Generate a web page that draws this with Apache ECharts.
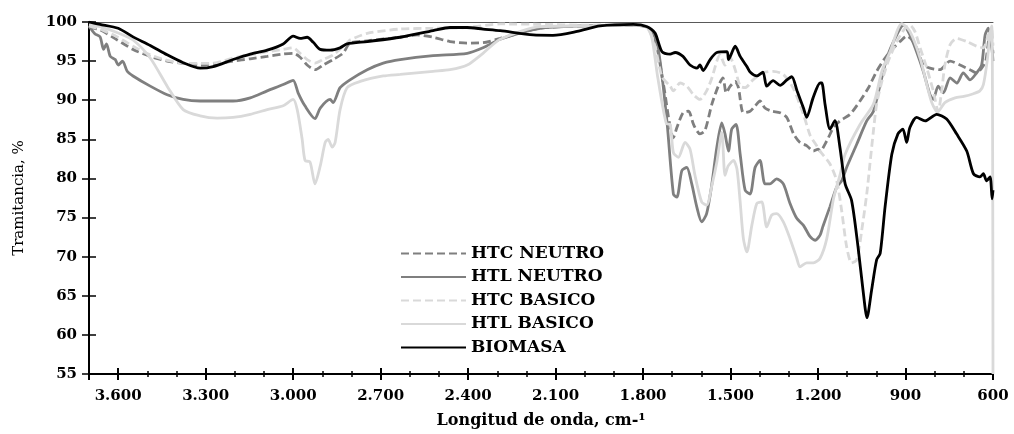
<!DOCTYPE html>
<html>
<head>
<meta charset="utf-8">
<script src="https://cdn.jsdelivr.net/npm/echarts@6/dist/echarts.min.js"></script>
<style>
html,body{margin:0;padding:0;background:#fff;}
#chart{width:1014px;height:434px;}
</style>
</head>
<body>
<div id="chart"></div>
<script>
// ---- Data: [wavenumber cm-1, transmittance %] ----
const seriesNames = ['HTC NEUTRO', 'HTL NEUTRO', 'HTC BASICO', 'HTL BASICO', 'BIOMASA'];

const xTickValues = [600, 900, 1200, 1500, 1800, 2100, 2400, 2700, 3000, 3300, 3600];
const yTickValues = [55, 60, 65, 70, 75, 80, 85, 90, 95, 100];

const htcNeutro = [
  [3700,99.3],[3662,99.0],[3603,97.7],[3549,96.5],[3490,95.6],[3432,95.0],[3377,94.7],[3319,94.5],
  [3261,94.7],[3206,95.0],[3147,95.3],[3089,95.6],[3034,95.9],[3000,96.0],[2976,95.5],[2952,94.5],
  [2925,93.9],[2897,94.5],[2863,95.2],[2829,96.0],[2805,97.3],[2746,97.6],[2633,98.05],[2575,98.35],
  [2520,98.05],[2462,97.5],[2403,97.3],[2349,97.35],[2290,97.9],[2153,99.2],[2000,99.5],[1850,99.6],
  [1790,99.4],[1760,98.0],[1730,92.0],[1696,85.2],[1684,86.5],[1663,88.4],[1644,88.6],[1627,86.9],
  [1605,85.7],[1588,86.1],[1564,89.5],[1542,91.8],[1526,92.85],[1515,90.95],[1501,91.8],[1484,92.4],
  [1473,91.6],[1456,88.4],[1433,88.6],[1416,89.25],[1399,89.9],[1382,89.0],[1359,88.6],[1330,88.4],
  [1307,87.8],[1284,85.7],[1262,84.6],[1239,84.2],[1216,83.5],[1199,83.75],[1193,83.5],[1170,84.8],
  [1147,86.5],[1125,87.35],[1090,88.2],[1056,89.9],[1027,91.6],[999,93.7],[970,95.4],[941,96.7],
  [919,97.5],[895,98.2],[880,97.8],[862,96.7],[839,94.5],[816,94.1],[782,93.9],[747,95.0],[713,94.5],
  [679,93.9],[656,93.5],[639,94.1],[625,95.0],[612,98.0],[603,97.0],[600,96.0]
];

const htlNeutro = [
  [3700,99.5],[3680,98.5],[3662,98.1],[3650,96.5],[3640,97.2],[3627,95.6],[3610,95.2],[3600,94.5],
  [3585,95.0],[3569,93.7],[3549,93.1],[3490,91.8],[3432,90.7],[3377,90.1],[3319,89.9],[3206,89.9],
  [3147,90.3],[3089,91.2],[3034,92.0],[3000,92.55],[2983,90.95],[2959,89.25],[2925,87.65],[2907,89.0],
  [2873,90.1],[2863,89.7],[2839,91.6],[2805,92.6],[2746,93.9],[2691,94.75],[2633,95.2],[2520,95.7],
  [2403,96.0],[2349,96.7],[2290,97.8],[2153,99.2],[2000,99.5],[1850,99.6],[1790,99.4],[1753,97.5],
  [1720,88.0],[1696,78.0],[1684,77.6],[1667,81.0],[1650,81.4],[1633,79.3],[1616,76.4],[1599,74.45],
  [1582,75.5],[1564,79.3],[1547,84.0],[1530,87.1],[1519,85.7],[1507,83.5],[1496,86.3],[1481,86.9],
  [1467,83.1],[1450,78.5],[1433,78.0],[1416,81.4],[1399,82.3],[1382,79.3],[1365,79.3],[1342,79.95],
  [1319,79.3],[1296,76.8],[1273,74.9],[1250,74.0],[1227,72.55],[1210,72.1],[1193,72.75],[1183,73.9],
  [1159,76.4],[1136,78.9],[1119,79.7],[1102,81.4],[1067,84.4],[1033,87.35],[1010,88.6],[987,92.0],
  [964,95.4],[930,98.35],[907,99.6],[885,98.35],[862,96.2],[839,93.7],[816,90.7],[805,90.1],
  [788,91.8],[770,90.95],[747,92.85],[724,92.2],[702,93.5],[679,92.6],[656,93.5],[639,94.5],
  [627,98.35],[616,99.2],[604,96.7],[600,95.0]
];

const htcBasico = [
  [3700,99.5],[3650,98.9],[3603,98.1],[3549,96.9],[3490,95.8],[3432,95.1],[3377,94.75],[3319,94.7],
  [3261,94.8],[3206,95.4],[3147,95.8],[3089,96.2],[3034,96.5],[3000,96.7],[2976,96.0],[2952,95.2],
  [2925,94.75],[2897,95.2],[2863,95.8],[2815,97.3],[2805,97.7],[2746,98.55],[2633,99.1],[2520,99.2],
  [2403,99.3],[2290,99.75],[2150,99.7],[2000,99.6],[1850,99.7],[1790,99.5],[1760,97.0],[1735,93.0],
  [1707,91.8],[1696,91.2],[1673,92.2],[1650,91.8],[1627,90.7],[1605,90.1],[1582,91.2],[1564,92.85],
  [1547,95.0],[1536,95.8],[1519,94.5],[1501,95.4],[1484,93.9],[1467,91.8],[1450,91.6],[1423,92.6],
  [1389,93.5],[1354,93.7],[1319,93.3],[1286,91.6],[1250,88.2],[1227,85.5],[1205,84.2],[1193,83.5],
  [1159,81.85],[1136,79.7],[1119,75.9],[1102,71.3],[1085,69.2],[1067,69.6],[1050,73.4],[1033,78.0],
  [1022,81.85],[1010,86.1],[999,89.5],[981,92.4],[959,95.0],[930,97.5],[902,99.2],[885,99.6],
  [868,98.8],[850,96.7],[827,94.1],[805,91.2],[788,88.6],[776,91.2],[765,94.5],[747,97.1],
  [724,97.9],[690,97.5],[656,96.9],[633,96.7],[616,98.35],[605,99.0],[600,97.0]
];

const htlBasico = [
  [3700,99.7],[3662,99.4],[3600,98.6],[3549,97.7],[3490,95.4],[3432,91.8],[3377,88.8],[3319,88.0],
  [3261,87.7],[3206,87.8],[3147,88.2],[3089,88.8],[3034,89.3],[3000,90.1],[2986,88.8],[2969,85.0],
  [2959,82.3],[2942,82.1],[2925,79.3],[2907,81.6],[2890,84.6],[2880,85.0],[2866,84.0],[2856,84.6],
  [2839,88.8],[2815,91.6],[2770,92.4],[2691,93.1],[2633,93.3],[2520,93.7],[2462,93.9],[2403,94.5],
  [2349,96.0],[2290,97.8],[2153,99.4],[2000,99.5],[1850,99.6],[1790,99.4],[1770,98.0],[1750,93.0],
  [1720,87.0],[1707,86.9],[1696,83.3],[1679,82.7],[1656,84.6],[1639,83.75],[1622,80.4],[1599,77.0],
  [1582,76.6],[1564,79.1],[1547,82.1],[1530,85.9],[1519,80.4],[1508,81.6],[1490,82.3],[1478,81.2],
  [1467,77.0],[1456,72.3],[1444,70.6],[1427,74.0],[1410,76.8],[1393,77.0],[1376,73.8],[1359,75.3],
  [1342,75.5],[1319,74.45],[1296,72.3],[1273,69.8],[1262,68.7],[1239,69.2],[1216,69.2],[1193,69.8],
  [1170,72.3],[1147,77.4],[1125,80.4],[1107,83.1],[1056,86.9],[1010,89.5],[981,93.7],[953,96.2],
  [913,99.8],[885,98.8],[850,95.4],[827,92.0],[810,89.7],[790,88.5],[765,89.7],[730,90.3],
  [700,90.5],[670,90.8],[645,91.2],[633,92.0],[620,95.0],[610,98.5],[604,99.5],[601,80.0],[600,55.0]
];

const biomasa = [
  [3700,100],[3662,99.7],[3600,99.2],[3549,98.1],[3490,97.0],[3432,95.8],[3377,94.8],[3319,94.1],
  [3274,94.3],[3206,95.2],[3147,95.9],[3089,96.4],[3034,97.2],[3000,98.2],[2976,97.9],[2952,98.05],
  [2931,97.4],[2907,96.5],[2873,96.4],[2839,96.7],[2815,97.2],[2746,97.5],[2633,98.05],[2520,98.9],
  [2462,99.3],[2404,99.3],[2349,99.1],[2290,98.9],[2177,98.35],[2109,98.3],[2026,98.8],[1947,99.5],
  [1834,99.7],[1786,99.4],[1759,98.6],[1735,96.2],[1707,95.9],[1690,96.1],[1663,95.6],[1639,94.5],
  [1615,94.1],[1605,94.5],[1594,93.8],[1570,95.2],[1547,96.1],[1512,96.2],[1507,95.2],[1484,96.9],
  [1467,95.6],[1444,94.3],[1433,93.6],[1410,93.1],[1389,93.6],[1376,91.8],[1354,92.5],[1330,91.9],
  [1307,92.6],[1290,93.0],[1272,91.2],[1250,89.0],[1239,87.8],[1217,90.3],[1193,92.2],[1187,92.2],
  [1176,89.5],[1159,86.3],[1142,87.4],[1125,84.0],[1107,79.3],[1085,77.2],[1063,71.3],[1046,65.8],
  [1032,62.2],[1016,65.8],[999,69.6],[987,70.4],[970,76.4],[947,83.1],[926,85.7],[909,86.3],
  [896,84.6],[885,86.5],[862,87.8],[833,87.35],[793,88.2],[759,87.6],[725,85.7],[690,83.5],
  [667,80.6],[645,80.2],[633,80.6],[622,79.7],[610,80.2],[603,77.4],[600,78.5]
];

const seriesData = [htcNeutro, htlNeutro, htcBasico, htlBasico, biomasa];

// ---- styles ----
const MID = '#7f7f7f', LIGHT = '#d9d9d9';
const seriesStyles = [
  {color: MID, type: [8, 4]},
  {color: MID, type: 'solid'},
  {color: LIGHT, type: [8, 4]},
  {color: LIGHT, type: 'solid'},
  {color: '#000000', type: 'solid'}
];

const SERIF = '"DejaVu Serif", "Liberation Serif", serif';
const X_MIN = 600, X_MAX = 3700;

function fmtThousands(v) {
  if (v >= 1000) {
    const s = String(Math.round(v));
    return s.slice(0, s.length - 3) + '.' + s.slice(s.length - 3);
  }
  return String(v);
}

function xAxisBase(extra) {
  return Object.assign({
    type: 'value', gridIndex: 0, position: 'bottom', inverse: true,
    min: X_MIN, max: X_MAX, interval: 300,
    axisLine: {show: false, onZero: false},
    axisTick: {show: false},
    axisLabel: {show: false},
    splitLine: {show: false}
  }, extra);
}

const chart = echarts.init(document.getElementById('chart'), null, {renderer: 'canvas'});

chart.setOption({
  animation: false,
  backgroundColor: '#ffffff',
  grid: {left: 89, right: 21, top: 22, bottom: 57, containLabel: false},
  legend: {
    orient: 'vertical',
    left: 395,
    top: 240,
    itemWidth: 65,
    itemHeight: 14,
    itemGap: 6.5,
    itemStyle: {opacity: 0},
    data: seriesNames,
    textStyle: {fontFamily: SERIF, fontWeight: 'bold', fontSize: 17, color: '#000'}
  },
  xAxis: [
    xAxisBase({
      axisLine: {show: true, onZero: false, lineStyle: {color: '#000', width: 2}},
      axisTick: {show: true, inside: false, length: 6, lineStyle: {color: '#000', width: 2}},
      axisLabel: {
        show: true, margin: 15, color: '#000',
        fontFamily: SERIF, fontWeight: 'bold', fontSize: 15,
        formatter: function (v) { return xTickValues.indexOf(v) >= 0 ? fmtThousands(v) : ''; }
      },
      name: 'Longitud de onda, cm-\u00b9',
      nameLocation: 'middle',
      nameGap: 39,
      nameTextStyle: {fontFamily: SERIF, fontWeight: 'bold', fontSize: 16, color: '#000'}
    }),
    xAxisBase({
      axisTick: {show: true, inside: true, length: 6, lineStyle: {color: '#000', width: 2}}
    }),
    xAxisBase({
      interval: 100,
      axisTick: {show: true, inside: false, length: 3, lineStyle: {color: '#000', width: 1.5}}
    }),
    xAxisBase({
      interval: 100,
      axisTick: {show: true, inside: true, length: 3, lineStyle: {color: '#000', width: 1.5}}
    }),
    xAxisBase({
      position: 'top',
      axisLine: {show: true, onZero: false, lineStyle: {color: '#595959', width: 1}}
    })
  ],
  yAxis: [
    {
      type: 'value', gridIndex: 0, position: 'left',
      min: 55, max: 100, interval: 5,
      axisLine: {show: true, onZero: false, lineStyle: {color: '#000', width: 2}},
      axisTick: {show: true, inside: false, length: 7, lineStyle: {color: '#000', width: 1.5}},
      axisLabel: {
        show: true, margin: 12, color: '#000',
        fontFamily: SERIF, fontWeight: 'bold', fontSize: 15,
        formatter: function (v) { return yTickValues.indexOf(v) >= 0 ? String(v) : ''; }
      },
      splitLine: {show: false},
      name: 'Tramitancia, %',
      nameLocation: 'middle',
      nameGap: 62,
      nameRotate: 90,
      nameTextStyle: {fontFamily: SERIF, fontWeight: 'normal', fontSize: 15, color: '#000'}
    },
    {
      type: 'value', gridIndex: 0, position: 'left',
      min: 55, max: 100, interval: 5,
      axisLine: {show: false, onZero: false},
      axisTick: {show: true, inside: true, length: 7, lineStyle: {color: '#000', width: 1.5}},
      axisLabel: {show: false},
      splitLine: {show: false}
    }
  ],
  series: seriesNames.map(function (name, i) {
    return {
      name: name,
      type: 'line',
      xAxisIndex: 0,
      yAxisIndex: 0,
      data: seriesData[i],
      showSymbol: false,
      symbol: 'none',
      smooth: 0.25,
      clip: true,
      color: seriesStyles[i].color,
      lineStyle: {color: seriesStyles[i].color, width: 2.8, type: seriesStyles[i].type}
    };
  })
});
</script>
</body>
</html>
